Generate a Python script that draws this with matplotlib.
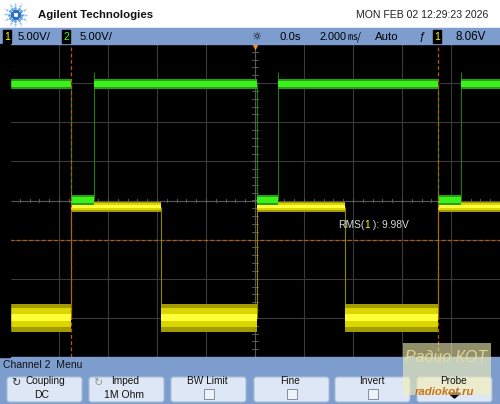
import numpy as np
import matplotlib
matplotlib.use("Agg")
import matplotlib.pyplot as plt
from matplotlib.patches import Rectangle, FancyBboxPatch, Polygon

plt.rcParams['font.family'] = ['Liberation Sans', 'DejaVu Sans']

# scope settings
volts_per_div = 5.0
ms_per_div = 2.0
t_range_ms = (-10.0, 10.0)

# channel 1 (yellow) - edge times (ms) and levels (V)
ch1_rise_ms = [-7.51, 0.08, 7.47]
ch1_fall_ms = [-3.84, 3.67]
ch1_levels_v = (0.0, 14.2)          # low, high
ch1_offset_div = -3.0
ch1_low_band_v = [1.8, 1.2, 0.45]   # outer, mid, core half widths
ch1_high_band_v = [0.65, 0.45, 0.22]

# channel 2 (green)
ch2_fall_ms = [-7.51, 0.08, 7.47]
ch2_rise_ms = [-6.57, 0.94, 8.39]
ch2_levels_v = (0.1, 14.9)
ch2_offset_div = 0.0
ch2_band_v = [0.66, 0.4]
ch2_spike_v = 16.4

# markers
cursor_ms = [-7.51, 7.47]
ch1_ref_v = 10.0
trig_level_v = 8.06
rms_ch1_v = 9.98

# status texts
header_title = "Agilent Technologies"
header_date = "MON FEB 02 12:29:23 2026"
menu_title = "Channel 2  Menu"
softkeys = [("Coupling", "DC"), ("Imped", "1M Ohm"), ("BW Limit", None),
            ("Fine", None), ("Invert", None), ("Probe", None)]

W, H = 500, 404
fig = plt.figure(figsize=(W / 100, H / 100), dpi=100)
fig.patch.set_facecolor('white')
renderer = fig.canvas.get_renderer()


def fx(x):
    return x / W


def fy(y):
    return 1 - y / H


def rect(x0, y0, x1, y1, **kw):
    fig.patches.append(Rectangle((fx(x0), fy(y1)), (x1 - x0) / W, (y1 - y0) / H,
                                 transform=fig.transFigure, **kw))


def ftext(x, y, s, **kw):
    kw.setdefault('va', 'center')
    return fig.text(fx(x), fy(y), s, **kw)


def right_px(t):
    return t.get_window_extent(renderer).x1


def segments(rises, falls, start_high):
    events = sorted([(t, True) for t in rises] + [(t, False) for t in falls])
    out, t_prev, state = [], t_range_ms[0], start_high
    for t, new_state in events:
        out.append((t_prev, t, state))
        t_prev, state = t, new_state
    out.append((t_prev, t_range_ms[1], state))
    return out


def to_div(v, offset):
    return v / volts_per_div + offset


# ---- header and bars ----
BLUE = '#7d9dcf'
rect(0, 28, 500, 44, color=BLUE)
rect(0, 357, 500, 404, color=BLUE)
rect(0, 44, 10, 357, color='black')

ftext(38, 15, header_title, fontsize=8.2, fontweight='bold', color='#111111')
ftext(488, 15, header_date, fontsize=7.6, ha='right', color='#222222')

# agilent spark logo
lax = fig.add_axes([fx(2), fy(28), 27 / W, 27 / H])
lax.set_xlim(-1.1, 1.1)
lax.set_ylim(-1.1, 1.1)
lax.set_aspect('equal')
lax.axis('off')
for k in range(12):
    a = k * np.pi / 6
    for r, s, c in [(0.32, 2.4, '#2a6cc4'), (0.55, 2.0, '#5a9ee0'),
                    (0.76, 1.6, '#8cc0ee'), (0.95, 1.2, '#b8dcf6')]:
        lax.plot(r * np.cos(a), r * np.sin(a), 'o', ms=s, color=c, mec='none')

# status bar contents
for x0, lab, col in [(3, '1', '#ffff00'), (62, '2', '#40ff20'), (433, '1', '#ffff00')]:
    rect(x0, 30, x0 + 8, 43, color='black')
    ftext(x0 + 4, 36.5, lab, fontsize=7.5, ha='center', color=col)
ftext(18, 36.5, "5.00V/", fontsize=8.2)
ftext(80, 36.5, "5.00V/", fontsize=8.2)
ftext(256, 36.5, "\u263c", fontsize=8, ha='center', family='DejaVu Sans')
ftext(280, 36.5, "0.0s", fontsize=8.2)
t_div = ftext(320, 36.5, "2.000", fontsize=7.8)
ftext(right_px(t_div) + 1, 36.5, "\u33b3/", fontsize=7.2,
      family=['Noto Sans CJK JP', 'DejaVu Sans'])
ftext(375, 36.5, "Auto", fontsize=8.2)
ftext(418, 36.5, "\u0192", fontsize=8, fontstyle='italic')
ftext(455, 36.5, "8.06V", fontsize=8.4)

# ---- screen ----
ax = fig.add_axes([fx(10), fy(357), 490 / W, 313 / H])
ax.set_facecolor('black')
ax.set_xlim(-5, 5)
ax.set_ylim(-4, 4)
ax.set_xticks([])
ax.set_yticks([])
for sp in ax.spines.values():
    sp.set_visible(False)

for i in range(-4, 5):
    ax.axvline(i, color='#3a3a3a', lw=0.8, zorder=1)
for j in range(-3, 4):
    ax.axhline(j, color='#3a3a3a', lw=0.8, zorder=1)
ax.axvline(0, color='#555555', lw=0.8, zorder=1)
ax.axhline(0, color='#555555', lw=0.8, zorder=1)
for m in np.arange(-5, 5.01, 0.2):
    ax.plot([m, m], [-0.05, 0.05], color='#666666', lw=0.6, zorder=1)
for m in np.arange(-4, 4.01, 0.2):
    ax.plot([-0.06, 0.06], [m, m], color='#666666', lw=0.6, zorder=1)
ax.axvline(-5, color='#bfbfbf', lw=1.2, zorder=6)

# orange cursors / reference
for c in cursor_ms:
    ax.axvline(c / ms_per_div, color='#b85a0a', lw=0.9, ls=(0, (3, 2)), zorder=5)
ax.axhline(to_div(ch1_ref_v, ch1_offset_div), color='#b85a0a', lw=0.9,
           ls=(0, (3, 2)), zorder=2)

# channel 1 trace
yel_cols = ['#a29c00', '#dcd600', '#ffff3a']
for ta, tb, high in segments(ch1_rise_ms, ch1_fall_ms, False):
    v = ch1_levels_v[1] if high else ch1_levels_v[0]
    bands = ch1_high_band_v if high else ch1_low_band_v
    xa, xb = ta / ms_per_div, tb / ms_per_div
    for hw, col in zip(bands, yel_cols):
        ax.fill_between([xa, xb], to_div(v - hw, ch1_offset_div),
                        to_div(v + hw, ch1_offset_div), color=col, lw=0, zorder=3)
for t in ch1_fall_ms + ch1_rise_ms:
    ax.vlines(t / ms_per_div, to_div(ch1_levels_v[0], ch1_offset_div),
              to_div(ch1_levels_v[1], ch1_offset_div), color='#8a8600', lw=0.8, zorder=2)

# channel 2 trace
grn_cols = ['#24a010', '#3cf01c']
for ta, tb, high in segments(ch2_rise_ms, ch2_fall_ms, True):
    v = ch2_levels_v[1] if high else ch2_levels_v[0]
    xa, xb = ta / ms_per_div, tb / ms_per_div
    for hw, col in zip(ch2_band_v, grn_cols):
        ax.fill_between([xa, xb], to_div(v - hw, ch2_offset_div),
                        to_div(v + hw, ch2_offset_div), color=col, lw=0, zorder=4)
for t in ch2_rise_ms:
    ax.vlines(t / ms_per_div, to_div(ch2_levels_v[0], ch2_offset_div),
              to_div(ch2_spike_v, ch2_offset_div), color='#1f7a10', lw=0.8, zorder=2)
for t in ch2_fall_ms:
    ax.vlines(t / ms_per_div, to_div(ch2_levels_v[0], ch2_offset_div),
              to_div(ch2_levels_v[1], ch2_offset_div), color='#1f7a10', lw=0.8, zorder=2)

# time reference marker
ax.plot(0, 3.93, marker='v', ms=5, color='#ff8c1a', mec='none', zorder=7, clip_on=False)

# left markers
for y, lab, col in [(ch2_offset_div, '2', '#40ff20'), (ch1_offset_div, '1', '#ffff00'),
                    (to_div(trig_level_v, ch1_offset_div), 'T', '#ffff00')]:
    ax.text(-5.16, y + 0.08, lab, fontsize=6.5, color=col, ha='center', va='center',
            clip_on=False, zorder=8)
    ax.plot(-5.05, y, marker='>', ms=3.5, color=col, mec='none', clip_on=False, zorder=8)
    if lab != 'T':
        ax.plot([-5.24, -5.08], [y - 0.14, y - 0.14], color=col, lw=0.7, clip_on=False)
        ax.plot([-5.2, -5.12], [y - 0.2, y - 0.2], color=col, lw=0.7, clip_on=False)

# RMS measurement readout
rms_y = -0.63
x_cur = 1.69
for part, col in [("RMS(", '#d8d8d8'), ("1", '#ffff00'), (f" ): {rms_ch1_v:.2f}V", '#d8d8d8')]:
    t = ax.text(x_cur, rms_y, part, fontsize=7.4, color=col, va='center', zorder=8)
    bb = t.get_window_extent(renderer)
    x_cur = ax.transData.inverted().transform((bb.x1, bb.y0))[0]

# ---- softkey menu ----
ftext(3, 364.5, menu_title, fontsize=7.5, color='#111111')
key_x = [7, 89, 171, 254, 335, 417]
for x0, (top, bottom) in zip(key_x, softkeys):
    fig.patches.append(FancyBboxPatch((fx(x0), fy(402)), 75 / W, 25 / H,
                                      boxstyle='round,pad=0,rounding_size=0.006',
                                      transform=fig.transFigure,
                                      fc='#dde7f5', ec='#a9bcd8', lw=0.8))
    cx = x0 + 37.5
    if top in ("Coupling", "Imped"):
        ftext(x0 + 9, 383, "\u21bb", fontsize=8, ha='center',
              color='#333333' if top == "Coupling" else '#999999', family='DejaVu Sans')
    ftext(cx + (1 if top == "Coupling" else -1), 381.5, top, fontsize=7.3,
          ha='center', color='#111111')
    if bottom:
        ftext(cx - 3, 395, bottom, fontsize=7.5, ha='center', color='#111111')
    elif top == "Probe":
        fig.patches.append(Polygon([(fx(cx - 6), fy(393)), (fx(cx + 6), fy(393)),
                                    (fx(cx), fy(398))], closed=True,
                                   transform=fig.transFigure, color='black'))
    else:
        rect(cx - 5, 389, cx + 5, 399, fc='#eef3fa', ec='#7f8fa5', lw=0.7)

# watermark
rect(403, 343, 491, 395, color='#f5f0b4', alpha=0.6, lw=0)
ftext(446, 357, "Радио КОТ", fontsize=11.5, ha='center', color='#e6df9c',
      fontstyle='italic', alpha=0.9)
ftext(445, 392, "radiokot.ru", fontsize=8.2, ha='center', color='#c8701e',
      fontstyle='italic', fontweight='bold')

fig.savefig('out.png', dpi=100)
